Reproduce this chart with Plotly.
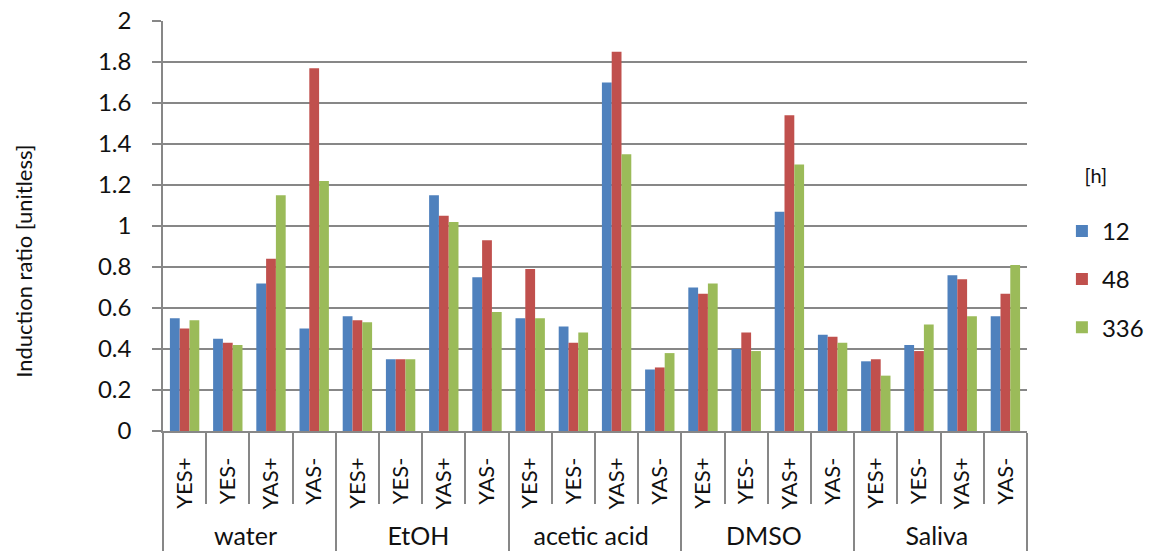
import plotly.graph_objects as go

# Solvent groups and assay sub-categories
groups = ["water", "EtOH", "acetic acid", "DMSO", "Saliva"]
assays = ["YES+", "YES-", "YAS+", "YAS-"]

# Induction ratios per exposure time, ordered group by group, assay by assay
h12 = [0.55, 0.45, 0.72, 0.50,
       0.56, 0.35, 1.15, 0.75,
       0.55, 0.51, 1.70, 0.30,
       0.70, 0.40, 1.07, 0.47,
       0.34, 0.42, 0.76, 0.56]
h48 = [0.50, 0.43, 0.84, 1.77,
       0.54, 0.35, 1.05, 0.93,
       0.79, 0.43, 1.85, 0.31,
       0.67, 0.48, 1.54, 0.46,
       0.35, 0.39, 0.74, 0.67]
h336 = [0.54, 0.42, 1.15, 1.22,
        0.53, 0.35, 1.02, 0.58,
        0.55, 0.48, 1.35, 0.38,
        0.72, 0.39, 1.30, 0.43,
        0.27, 0.52, 0.56, 0.81]

series_names = ["12", "48", "336"]
series_values = [h12, h48, h336]
colors = ["#4F81BD", "#C0504D", "#9BBB59"]

# Two-level category axis; a little leading padding on the rotated inner
# labels leaves more room above the solvent names, which use a larger size
PAD = "\u00a0\u00a0"
outer = [f"<span style='font-size:25px'>{g}</span>" for g in groups for _ in assays]
inner = [PAD + a for _ in groups for a in assays]

FONT = "Lato"
GRID = "#878787"
TEXT = "#111111"

fig = go.Figure()
for name, vals, col in zip(series_names, series_values, colors):
    fig.add_trace(go.Bar(
        x=[outer, inner], y=vals, name=name, legendgroup=name,
        marker=dict(color=col, line=dict(width=0)),
    ))

fig.update_layout(
    width=1153, height=556,
    margin=dict(l=163, r=126, t=21, b=125, autoexpand=False),
    paper_bgcolor="white", plot_bgcolor="white",
    barmode="group", bargap=0.32, bargroupgap=0,
    font=dict(family=FONT, size=22, color=TEXT),
    legend=dict(
        title=dict(text="\u00a0\u00a0\u00a0\u00a0[h]<br> ", font=dict(size=20)),
        xref="container", yref="container",
        x=0.921, y=0.718, xanchor="left", yanchor="top",
        font=dict(size=24), itemwidth=30, tracegroupgap=14,
    ),
)
fig.update_yaxes(
    range=[0, 2], dtick=0.2, tickformat="~g",
    showgrid=True, gridcolor=GRID, gridwidth=1.6,
    showline=True, linecolor=GRID, linewidth=1.6,
    ticks="outside", ticklen=9, tickcolor=GRID, tickwidth=1.6,
    ticklabelstandoff=16, tickfont=dict(size=24),
    zeroline=False,
)
fig.update_xaxes(
    type="multicategory", tickangle=-90,
    showline=True, linecolor=GRID, linewidth=1.6,
    ticks="outside", ticklen=71, tickcolor=GRID, tickwidth=1.6,
    showdividers=True, dividercolor=GRID, dividerwidth=1.6,
    tickson="boundaries", ticklabelstandoff=16,
)

# Vertical value-axis caption, centred on the full chart height
fig.add_annotation(
    text="Induction ratio [unitless]", textangle=-90,
    xref="paper", yref="paper", x=-0.161, y=0.415,
    xanchor="center", yanchor="middle", showarrow=False,
    font=dict(size=22, color=TEXT),
)

fig.write_html("out.html")
